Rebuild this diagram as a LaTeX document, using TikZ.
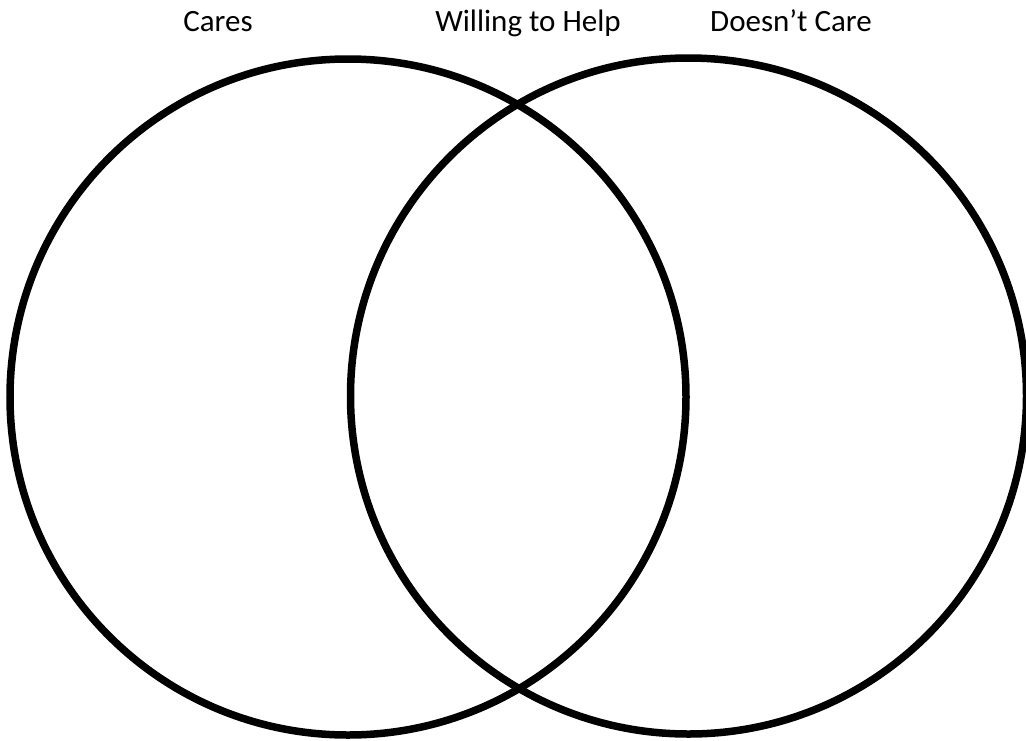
\documentclass[tikz,border=0pt]{standalone}
\usepackage{fontspec}
\setmainfont{Carlito}
\begin{document}
\begin{tikzpicture}[x=1pt,y=-1pt,
  vennring/.style={draw=black,line width=7.5pt},
  lbl/.style={anchor=base,inner sep=0pt,font=\fontsize{31}{36}\selectfont}]
\useasboundingbox (0,0) rectangle (1026,740);
\node[vennring,circle,minimum size=676pt,inner sep=0pt] (left) at (348,397) {};
\node[vennring,circle,minimum size=676pt,inner sep=0pt] (right) at (688.5,396) {};
\node[lbl] (cares) at (218,31) {Cares};
\node[lbl] (help) at (528,31) {Willing to Help};
\node[lbl] (nocare) at (791,31) {Doesn’t Care};
\end{tikzpicture}
\end{document}
